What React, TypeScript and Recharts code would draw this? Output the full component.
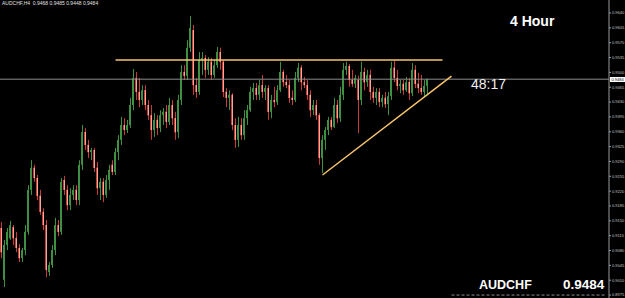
import { ComposedChart, Bar, XAxis, YAxis, ReferenceLine } from 'recharts';

// AUDCHF H4 candles (oldest first)
const opens = [
  0.9133, 0.9011, 0.9093, 0.9109, 0.9135, 0.9109, 0.9086, 0.9062, 0.9081, 0.9124,
  0.9223, 0.9275, 0.9251, 0.9209, 0.9171, 0.9140, 0.9029, 0.9046, 0.9081, 0.9140,
  0.9124, 0.9246, 0.9223, 0.9187, 0.9211, 0.9223, 0.9199, 0.9282, 0.9359, 0.9329,
  0.9312, 0.9317, 0.9275, 0.9227, 0.9242, 0.9211, 0.9246, 0.9282, 0.9265, 0.9312,
  0.9341, 0.9376, 0.9364, 0.9376, 0.9423, 0.9487, 0.9454, 0.9435, 0.9458, 0.9423,
  0.9399, 0.9364, 0.9388, 0.9369, 0.9399, 0.9407, 0.9383, 0.9423, 0.9392, 0.9359,
  0.9435, 0.9501, 0.9492, 0.9558, 0.9600, 0.9470, 0.9454, 0.9529, 0.9534, 0.9506,
  0.9525, 0.9494, 0.9517, 0.9548, 0.9525, 0.9454, 0.9440, 0.9447, 0.9376, 0.9341,
  0.9376, 0.9352, 0.9392, 0.9411, 0.9454, 0.9463, 0.9447, 0.9470, 0.9454, 0.9463,
  0.9407, 0.9435, 0.9430, 0.9458, 0.9501, 0.9477, 0.9470, 0.9440, 0.9435, 0.9487,
  0.9511, 0.9477, 0.9470, 0.9447, 0.9411, 0.9423, 0.9399, 0.9298, 0.9341, 0.9364,
  0.9388, 0.9371, 0.9423, 0.9392, 0.9447, 0.9506, 0.9515, 0.9482, 0.9473, 0.9482,
  0.9435, 0.9501, 0.9477, 0.9494, 0.9454, 0.9440, 0.9454, 0.9430, 0.9440, 0.9425,
  0.9444, 0.9511, 0.9487, 0.9468, 0.9473, 0.9458, 0.9477, 0.9451, 0.9506, 0.9473,
  0.9463, 0.9454, 0.9468,
];
const highs = [
  0.9147, 0.9105, 0.9133, 0.9150, 0.9140, 0.9124, 0.9095, 0.9086, 0.9140, 0.9234,
  0.9293, 0.9282, 0.9258, 0.9223, 0.9180, 0.9152, 0.9053, 0.9093, 0.9157, 0.9152,
  0.9251, 0.9256, 0.9234, 0.9227, 0.9234, 0.9234, 0.9293, 0.9376, 0.9369, 0.9341,
  0.9322, 0.9322, 0.9289, 0.9251, 0.9251, 0.9258, 0.9282, 0.9293, 0.9322, 0.9352,
  0.9395, 0.9392, 0.9388, 0.9440, 0.9508, 0.9501, 0.9487, 0.9470, 0.9470, 0.9435,
  0.9423, 0.9404, 0.9399, 0.9411, 0.9416, 0.9423, 0.9440, 0.9435, 0.9407, 0.9447,
  0.9517, 0.9517, 0.9576, 0.9633, 0.9612, 0.9487, 0.9548, 0.9548, 0.9541, 0.9536,
  0.9534, 0.9529, 0.9560, 0.9558, 0.9529, 0.9463, 0.9458, 0.9451, 0.9392, 0.9395,
  0.9392, 0.9411, 0.9423, 0.9466, 0.9475, 0.9475, 0.9482, 0.9494, 0.9470, 0.9470,
  0.9447, 0.9466, 0.9470, 0.9525, 0.9506, 0.9494, 0.9482, 0.9458, 0.9501, 0.9522,
  0.9517, 0.9489, 0.9482, 0.9458, 0.9435, 0.9435, 0.9404, 0.9352, 0.9371, 0.9395,
  0.9395, 0.9440, 0.9435, 0.9466, 0.9522, 0.9525, 0.9520, 0.9506, 0.9494, 0.9492,
  0.9525, 0.9511, 0.9506, 0.9506, 0.9466, 0.9463, 0.9463, 0.9447, 0.9454, 0.9454,
  0.9525, 0.9529, 0.9506, 0.9482, 0.9482, 0.9489, 0.9487, 0.9522, 0.9517, 0.9499,
  0.9494, 0.9482, 0.9485,
];
const lows = [
  0.9062, 0.8994, 0.9081, 0.9105, 0.9093, 0.9076, 0.9053, 0.9053, 0.9069, 0.9117,
  0.9211, 0.9242, 0.9199, 0.9164, 0.9128, 0.9017, 0.9020, 0.9039, 0.9069, 0.9114,
  0.9117, 0.9211, 0.9175, 0.9175, 0.9199, 0.9187, 0.9187, 0.9270, 0.9317, 0.9298,
  0.9293, 0.9265, 0.9211, 0.9199, 0.9194, 0.9204, 0.9223, 0.9258, 0.9258, 0.9293,
  0.9329, 0.9352, 0.9357, 0.9369, 0.9411, 0.9435, 0.9418, 0.9423, 0.9411, 0.9388,
  0.9341, 0.9348, 0.9352, 0.9359, 0.9376, 0.9369, 0.9376, 0.9376, 0.9341, 0.9345,
  0.9423, 0.9482, 0.9482, 0.9548, 0.9447, 0.9440, 0.9447, 0.9494, 0.9487, 0.9494,
  0.9482, 0.9487, 0.9511, 0.9506, 0.9442, 0.9418, 0.9411, 0.9364, 0.9322, 0.9324,
  0.9341, 0.9341, 0.9376, 0.9407, 0.9435, 0.9435, 0.9435, 0.9440, 0.9435, 0.9388,
  0.9392, 0.9418, 0.9423, 0.9454, 0.9466, 0.9463, 0.9428, 0.9423, 0.9430, 0.9477,
  0.9458, 0.9463, 0.9435, 0.9395, 0.9399, 0.9388, 0.9282, 0.9263, 0.9317, 0.9352,
  0.9364, 0.9369, 0.9381, 0.9383, 0.9435, 0.9494, 0.9466, 0.9466, 0.9463, 0.9357,
  0.9423, 0.9458, 0.9466, 0.9435, 0.9428, 0.9423, 0.9418, 0.9418, 0.9416, 0.9399,
  0.9435, 0.9477, 0.9458, 0.9451, 0.9447, 0.9454, 0.9435, 0.9444, 0.9463, 0.9451,
  0.9447, 0.9444, 0.9448,
];
const closes = [
  0.9076, 0.9093, 0.9124, 0.9140, 0.9109, 0.9086, 0.9062, 0.9081, 0.9124, 0.9223,
  0.9275, 0.9251, 0.9209, 0.9171, 0.9140, 0.9034, 0.9046, 0.9081, 0.9140, 0.9124,
  0.9242, 0.9223, 0.9187, 0.9211, 0.9223, 0.9199, 0.9282, 0.9359, 0.9329, 0.9312,
  0.9317, 0.9275, 0.9227, 0.9242, 0.9211, 0.9246, 0.9270, 0.9265, 0.9312, 0.9341,
  0.9376, 0.9364, 0.9376, 0.9423, 0.9487, 0.9454, 0.9435, 0.9458, 0.9423, 0.9399,
  0.9364, 0.9388, 0.9369, 0.9399, 0.9407, 0.9383, 0.9423, 0.9392, 0.9359, 0.9435,
  0.9501, 0.9492, 0.9558, 0.9605, 0.9470, 0.9454, 0.9529, 0.9534, 0.9506, 0.9525,
  0.9494, 0.9517, 0.9548, 0.9525, 0.9454, 0.9440, 0.9447, 0.9376, 0.9341, 0.9376,
  0.9352, 0.9392, 0.9411, 0.9454, 0.9463, 0.9447, 0.9470, 0.9454, 0.9463, 0.9407,
  0.9435, 0.9430, 0.9458, 0.9501, 0.9477, 0.9470, 0.9440, 0.9435, 0.9487, 0.9511,
  0.9477, 0.9470, 0.9447, 0.9411, 0.9423, 0.9399, 0.9298, 0.9341, 0.9364, 0.9388,
  0.9371, 0.9423, 0.9392, 0.9447, 0.9506, 0.9515, 0.9482, 0.9473, 0.9487, 0.9435,
  0.9501, 0.9477, 0.9494, 0.9454, 0.9440, 0.9454, 0.9430, 0.9440, 0.9425, 0.9444,
  0.9511, 0.9487, 0.9468, 0.9473, 0.9458, 0.9477, 0.9451, 0.9506, 0.9473, 0.9463,
  0.9454, 0.9468, 0.9484,
];

const priceTicks = [
  0.964, 0.9605, 0.957, 0.9535, 0.95, 0.9465, 0.943, 0.9395, 0.936, 0.9325,
  0.929, 0.9255, 0.922, 0.9185, 0.915, 0.9115, 0.908, 0.9045, 0.901, 0.8975,
];

const lastPrice = 0.9484;
const resistance = 0.9529;
const trendStart = { x: 107, y: 0.9258 };
const trendEnd = { x: 150, y: 0.9491 };
const shiftBars = 60; // empty space on the right (chart shift)

const rows = [
  ...opens.map((o, i) => ({
    idx: i,
    open: o,
    high: highs[i],
    low: lows[i],
    close: closes[i],
    range: [lows[i], highs[i]],
  })),
  ...Array.from({ length: shiftBars }, (_, k) => ({ idx: opens.length + k })),
];

const UP = '#3d9140';
const DOWN = '#c93c36';
const DOWN_BODY = '#f1a99c';

function Candle(props: any) {
  const { x, y, width, height, payload } = props;
  if (!payload || payload.open == null || !isFinite(y) || !isFinite(height)) return null;
  const { open, high, low, close } = payload;
  const top = Math.min(y, y + height);
  const h = Math.abs(height);
  const toY = (p: number) => (high === low ? top : top + ((high - p) / (high - low)) * h);
  const left = Math.floor(x + width / 2) - 1;
  const up = close >= open;
  const bTop = toY(Math.max(open, close));
  const bBot = toY(Math.min(open, close));
  return (
    <g>
      <line x1={left + 1.5} x2={left + 1.5} y1={top} y2={top + h} stroke={up ? UP : DOWN} strokeWidth={1} />
      <rect
        x={left}
        y={bTop}
        width={2}
        height={Math.max(1, bBot - bTop)}
        fill={up ? UP : DOWN_BODY}
      />
      {!up && <line x1={left + 0.5} x2={left + 0.5} y1={bTop} y2={bTop + Math.max(1, bBot - bTop)} stroke={DOWN} strokeWidth={1} />}
    </g>
  );
}

const font = '"Liberation Sans", Arial, sans-serif';

export default function App() {
  return (
    <div style={{ position: 'absolute', left: 0, top: 0, width: 625, height: 298, background: '#000', overflow: 'hidden', fontFamily: font }}>
      <ComposedChart
        width={625}
        height={298}
        data={rows}
        margin={{ top: 0, right: 0, left: 0, bottom: 0 }}
        barCategoryGap={0}
        barGap={0}
      >
        <XAxis dataKey="idx" hide />
        <YAxis
          orientation="right"
          width={16}
          domain={[0.8968, 0.96707]}
          allowDataOverflow
          ticks={priceTicks}
          interval={0}
          tickFormatter={(v: number) => v.toFixed(4)}
          tick={{ fontSize: 4, fill: '#c8c8c8', fontFamily: font }}
          tickSize={2}
          tickMargin={1}
          axisLine={{ stroke: '#9a9a9a' }}
          tickLine={{ stroke: '#9a9a9a' }}
        />
        <ReferenceLine y={lastPrice} stroke="#8e8e8e" strokeWidth={1} ifOverflow="visible" />
        <Bar dataKey="range" shape={<Candle />} isAnimationActive={false} />
        <ReferenceLine
          segment={[{ x: 38, y: resistance }, { x: 147, y: resistance }]}
          stroke="#f7c46c"
          strokeWidth={1.5}
          ifOverflow="visible"
        />
        <ReferenceLine
          segment={[trendStart, trendEnd]}
          stroke="#f7c46c"
          strokeWidth={1.5}
          ifOverflow="visible"
        />
        <ReferenceLine
          segment={[{ x: 150, y: 0.8975 }, { x: 201, y: 0.8975 }]}
          stroke="#8e8e8e"
          strokeDasharray="3 2"
          ifOverflow="visible"
        />
      </ComposedChart>

      <div style={{ position: 'absolute', left: 2, top: 1, fontSize: 5, lineHeight: '5px', color: '#e0e0e0', whiteSpace: 'pre' }}>
        AUDCHF,H4  0.9468 0.9485 0.9448 0.9484
      </div>
      <div style={{ position: 'absolute', left: 510, top: 14, fontSize: 14, lineHeight: '14px', fontWeight: 700, color: '#fff' }}>
        4 Hour
      </div>
      <div style={{ position: 'absolute', left: 471, top: 77, fontSize: 14, lineHeight: '14px', color: '#f0f0f0' }}>
        48:17
      </div>
      <div style={{ position: 'absolute', left: 479, top: 279, fontSize: 12.5, lineHeight: '12.5px', fontWeight: 700, color: '#fff' }}>
        AUDCHF
      </div>
      <div style={{ position: 'absolute', left: 563, top: 278, fontSize: 13.5, lineHeight: '13.5px', fontWeight: 700, color: '#fff' }}>
        0.9484
      </div>
      <div style={{ position: 'absolute', left: 610, top: 77, width: 15, height: 5, background: '#fff', color: '#000', fontSize: 4, lineHeight: '5px', textAlign: 'center' }}>
        0.9484
      </div>
    </div>
  );
}
